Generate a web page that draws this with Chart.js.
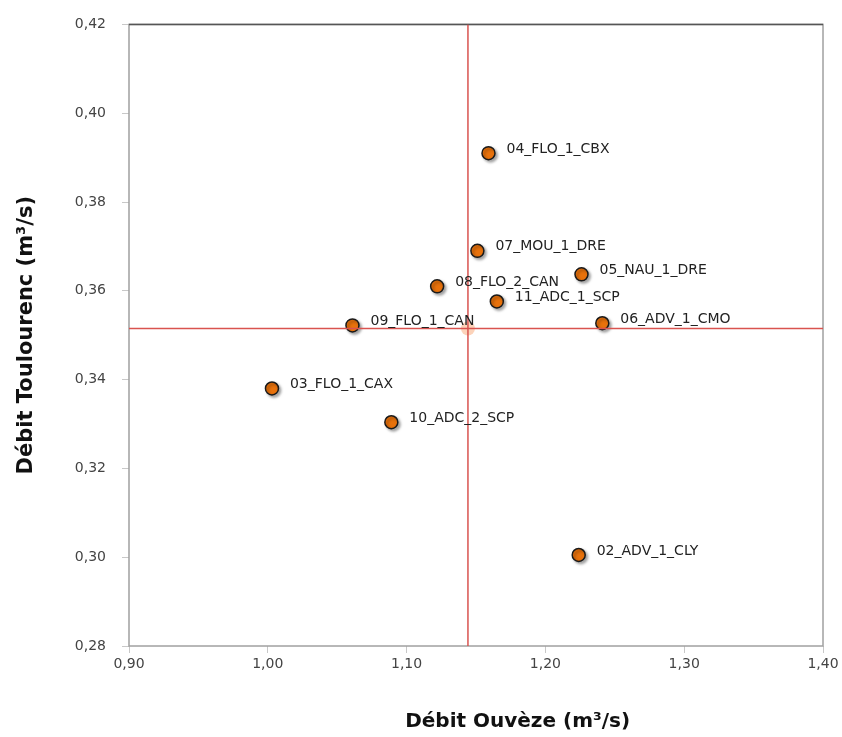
<!DOCTYPE html>
<html>
<head>
<meta charset="utf-8">
<script src="https://cdn.jsdelivr.net/npm/chart.js@4/dist/chart.umd.min.js"></script>
<style>
  html, body { margin: 0; padding: 0; background: #fff; }
  #wrap { width: 842px; height: 737px; }
</style>
</head>
<body>
<div id="wrap"><canvas id="chart1" width="842" height="737"></canvas></div>
<script>
const stations = ['04_FLO_1_CBX', '07_MOU_1_DRE', '05_NAU_1_DRE', '08_FLO_2_CAN', '11_ADC_1_SCP',
  '09_FLO_1_CAN', '06_ADV_1_CMO', '03_FLO_1_CAX', '10_ADC_2_SCP', '02_ADV_1_CLY'];
const debitOuveze = [1.159, 1.151, 1.226, 1.122, 1.165, 1.061, 1.241, 1.003, 1.089, 1.224];
const debitToulourenc = [0.391, 0.369, 0.3637, 0.361, 0.3576, 0.3522, 0.3527, 0.338, 0.3304, 0.3005];
const meanX = 1.1442;
const meanY = 0.3515;
const xRange = [0.90, 1.40];
const yRange = [0.28, 0.42];

const fmt = (v) => v.toFixed(2).replace('.', ',');

const framePlugin = {
  id: 'frame',
  beforeDatasetsDraw(chart) {
    const { ctx, chartArea: a } = chart;
    ctx.save();
    ctx.strokeStyle = '#a0a0a0';
    ctx.lineWidth = 1.5;
    ctx.strokeRect(a.left, a.top, a.right - a.left, a.bottom - a.top);
    ctx.strokeStyle = '#555';
    ctx.beginPath();
    ctx.moveTo(a.left, a.top);
    ctx.lineTo(a.right, a.top);
    ctx.stroke();
    ctx.restore();
  },
  beforeDatasetDraw(chart, args) {
    if (args.index !== 2) return;
    const ctx = chart.ctx;
    ctx.save();
    ctx.shadowColor = 'rgba(0,0,0,0.35)';
    ctx.shadowBlur = 3;
    ctx.shadowOffsetX = 2;
    ctx.shadowOffsetY = 2;
  },
  afterDatasetDraw(chart, args) {
    if (args.index !== 2) return;
    chart.ctx.restore();
  },
  afterDatasetsDraw(chart) {
    const { ctx } = chart;
    const meta = chart.getDatasetMeta(2);
    ctx.save();
    ctx.font = '14px "DejaVu Sans", Verdana, sans-serif';
    ctx.fillStyle = '#222';
    ctx.textBaseline = 'middle';
    meta.data.forEach((pt, i) => {
      ctx.fillText(stations[i], pt.x + 18, pt.y - 4);
    });
    ctx.restore();
  },
  afterDraw(chart) {
    const { ctx, chartArea: a } = chart;
    ctx.save();
    ctx.font = 'bold 20px "DejaVu Sans", Verdana, sans-serif';
    ctx.fillStyle = '#111';
    ctx.textAlign = 'center';
    ctx.textBaseline = 'middle';
    ctx.fillText('Débit Ouvèze (m³/s)', a.left + (a.right - a.left) * 0.56, 722);
    ctx.font = 'bold 21px "DejaVu Sans", Verdana, sans-serif';
    ctx.translate(27, (a.top + a.bottom) / 2);
    ctx.rotate(-Math.PI / 2);
    ctx.fillText('Débit Toulourenc (m³/s)', 0, 0);
    ctx.restore();
  }
};

new Chart(document.getElementById('chart1').getContext('2d'), {
  type: 'scatter',
  data: {
    datasets: [
      {
        type: 'line',
        data: [{ x: meanX, y: yRange[0] }, { x: meanX, y: yRange[1] }],
        borderColor: '#d9534f',
        borderWidth: 1.5,
        pointRadius: 0,
        fill: false
      },
      {
        type: 'line',
        data: [{ x: xRange[0], y: meanY }, { x: xRange[1], y: meanY }],
        borderColor: '#d9534f',
        borderWidth: 1.5,
        pointRadius: 0,
        fill: false
      },
      {
        data: debitOuveze.map((x, i) => ({ x, y: debitToulourenc[i] })),
        backgroundColor: '#e8720c',
        borderColor: '#1a1a1a',
        borderWidth: 1.5,
        pointRadius: 6.5,
        pointHoverRadius: 6.5
      },
      {
        data: [{ x: meanX, y: meanY }],
        backgroundColor: 'rgba(250,175,130,0.55)',
        borderWidth: 0,
        pointRadius: 7
      }
    ]
  },
  options: {
    responsive: false,
    animation: false,
    layout: { padding: { top: 24, right: 19, bottom: 0, left: 0 } },
    plugins: {
      legend: { display: false },
      tooltip: { enabled: false }
    },
    scales: {
      x: {
        type: 'linear',
        min: xRange[0],
        max: xRange[1],
        afterFit: (s) => { s.height = 91; },
        grid: { drawOnChartArea: false, tickLength: 7, color: '#c8c8c8' },
        border: { display: false },
        ticks: {
          stepSize: 0.1,
          padding: 3,
          color: '#444',
          font: { family: '"DejaVu Sans", Verdana, sans-serif', size: 14 },
          callback: (v) => fmt(v)
        }
      },
      y: {
        type: 'linear',
        min: yRange[0],
        max: yRange[1],
        afterFit: (s) => { s.width = 129; },
        grid: { drawOnChartArea: false, tickLength: 7, color: '#c8c8c8' },
        border: { display: false },
        ticks: {
          stepSize: 0.02,
          padding: 16,
          color: '#444',
          font: { family: '"DejaVu Sans", Verdana, sans-serif', size: 14 },
          callback: (v) => fmt(v)
        }
      }
    }
  },
  plugins: [framePlugin]
});
</script>
</body>
</html>
